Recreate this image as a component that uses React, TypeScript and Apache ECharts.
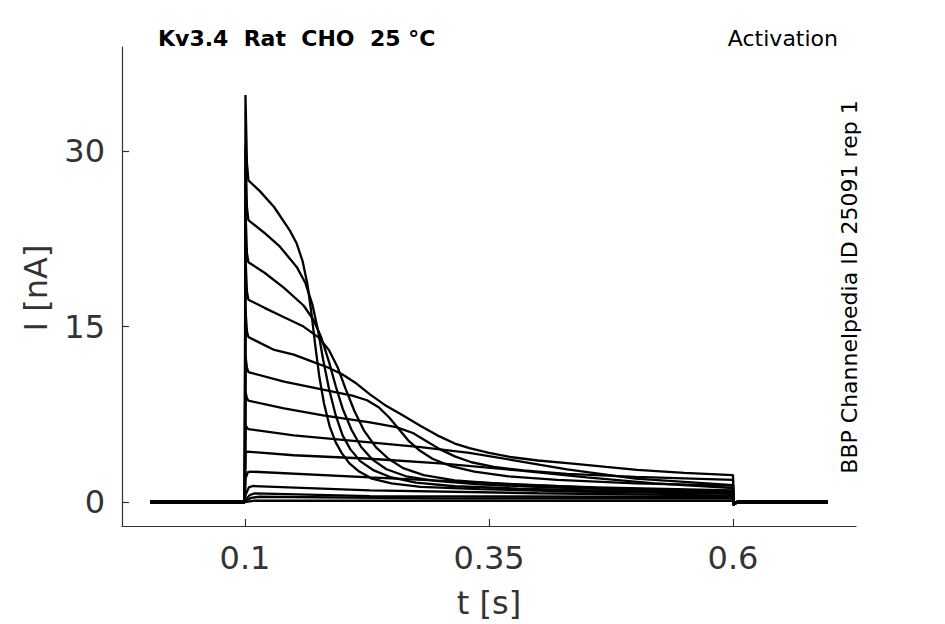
import React, { useEffect, useRef } from "react";
import * as echarts from "echarts";

// ---- data (time in s, current in nA) ----
const T_START = 0.003;
const T_STEP_ON = 0.0998;
const T_STEP_OFF = 0.6;
const T_END = 0.697;
const OFF_DIP = -0.25;

const xTicks = [0.1, 0.35, 0.6];
const yTicks = [0, 15, 30];

const sweep1 = [[0.1005, 34.8], [0.102, 29.0], [0.1035, 27.5], [0.115, 26.6], [0.13, 25.2], [0.146, 23.2], [0.153, 22.1], [0.159, 20.6], [0.164, 18.6], [0.168, 16.2], [0.172, 13.4], [0.176, 10.8], [0.181, 8.4], [0.187, 6.4], [0.193, 5.1], [0.199, 4.2], [0.207, 3.3], [0.217, 2.6], [0.23, 2.0], [0.25, 1.6], [0.28, 1.3], [0.34, 1.1], [0.44, 0.9], [0.6, 0.7]];
const sweep2 = [[0.1005, 30.5], [0.102, 25.2], [0.1035, 24.1], [0.12, 23.0], [0.135, 21.9], [0.153, 20.1], [0.162, 18.7], [0.169, 16.9], [0.175, 14.6], [0.18, 12.2], [0.186, 9.7], [0.193, 7.4], [0.2, 5.7], [0.208, 4.5], [0.218, 3.5], [0.232, 2.7], [0.25, 2.1], [0.275, 1.65], [0.315, 1.35], [0.38, 1.15], [0.47, 0.95], [0.6, 0.8]];
const sweep3 = [[0.1005, 25.0], [0.102, 21.3], [0.1035, 20.5], [0.12, 19.6], [0.14, 18.3], [0.16, 16.8], [0.17, 15.6], [0.178, 14.1], [0.186, 12.0], [0.193, 9.9], [0.2, 8.0], [0.209, 6.2], [0.219, 4.7], [0.231, 3.6], [0.245, 2.8], [0.265, 2.2], [0.295, 1.8], [0.34, 1.5], [0.41, 1.25], [0.5, 1.05], [0.6, 0.9]];
const sweep4 = [[0.1005, 21.0], [0.102, 18.0], [0.1035, 17.3], [0.12, 16.6], [0.14, 15.8], [0.16, 15.0], [0.175, 14.1], [0.186, 13.0], [0.195, 11.5], [0.203, 9.7], [0.212, 7.8], [0.222, 6.1], [0.234, 4.7], [0.247, 3.7], [0.262, 2.9], [0.283, 2.3], [0.315, 1.85], [0.37, 1.5], [0.46, 1.25], [0.6, 1.0]];
const sweep5 = [[0.1005, 16.5], [0.102, 14.6], [0.1035, 14.1], [0.13, 13.0], [0.15, 12.6], [0.169, 12.0], [0.185, 11.5], [0.2, 10.9], [0.213, 10.2], [0.228, 9.2], [0.245, 8.2], [0.262, 7.4], [0.28, 6.5], [0.297, 5.7], [0.315, 5.0], [0.33, 4.6], [0.35, 4.2], [0.3715, 3.85], [0.4, 3.55], [0.433, 3.3], [0.47, 3.0], [0.5016, 2.75], [0.55, 2.5], [0.6, 2.3]];
const sweep6 = [[0.1005, 12.5], [0.102, 11.5], [0.1035, 11.1], [0.14, 10.3], [0.18, 9.6], [0.21, 9.1], [0.225, 8.7], [0.237, 8.1], [0.248, 7.2], [0.258, 6.2], [0.268, 5.2], [0.279, 4.4], [0.292, 3.7], [0.31, 3.1], [0.335, 2.6], [0.37, 2.2], [0.42, 1.9], [0.5, 1.6], [0.6, 1.4]];
const sweep7 = [[0.1005, 9.4], [0.102, 8.9], [0.1035, 8.66], [0.14, 8.0], [0.18, 7.4], [0.228, 6.8], [0.255, 6.4], [0.272, 5.9], [0.286, 5.2], [0.3, 4.5], [0.315, 3.9], [0.332, 3.4], [0.355, 3.0], [0.385, 2.7], [0.43, 2.4], [0.5, 2.15], [0.6, 1.9]];
const sweep8 = [[0.1005, 6.6], [0.102, 6.35], [0.1035, 6.24], [0.15, 5.7], [0.228, 5.1], [0.28, 4.7], [0.33, 4.2], [0.38, 3.5], [0.43, 2.8], [0.5, 2.0], [0.6, 1.45]];
const sweep9 = [[0.1005, 4.2], [0.1025, 4.3], [0.15, 4.0], [0.228, 3.7], [0.3, 3.3], [0.38, 2.7], [0.45, 2.1], [0.52, 1.6], [0.6, 1.2]];
const sweep10 = [[0.1005, 2.0], [0.103, 2.55], [0.106, 2.6], [0.228, 2.1], [0.33, 1.7], [0.45, 1.25], [0.6, 0.85]];
const sweep11 = [[0.1005, 0.6], [0.104, 1.25], [0.108, 1.37], [0.228, 1.0], [0.4, 0.75], [0.6, 0.55]];
const sweep12 = [[0.1005, 0.2], [0.105, 0.6], [0.11, 0.74], [0.228, 0.5], [0.6, 0.43]];
const sweep13 = [[0.1005, 0.05], [0.106, 0.35], [0.115, 0.45], [0.3, 0.32], [0.6, 0.3]];
const sweep14 = [[0.1005, 0.0], [0.11, 0.12], [0.6, 0.1]];

const sweeps = [sweep1, sweep2, sweep3, sweep4, sweep5, sweep6, sweep7, sweep8, sweep9, sweep10, sweep11, sweep12, sweep13, sweep14];

const TITLE = "Kv3.4  Rat  CHO  25 °C";
const PROTOCOL = "Activation";
const SOURCE = "BBP Channelpedia ID 25091 rep 1";
const X_NAME = "t [s]";
const Y_NAME = "I [nA]";

function withHolding(pts: number[][]): number[][] {
  return [
    [T_START, 0],
    [T_STEP_ON, 0],
    ...pts,
    [T_STEP_OFF + 0.0005, OFF_DIP],
    [T_STEP_OFF + 0.004, 0],
    [T_END, 0],
  ];
}

const FONT = "DejaVu Sans";

export default function App() {
  const ref = useRef<HTMLDivElement>(null);
  useEffect(() => {
    if (!ref.current) return;
    const chart = echarts.init(ref.current, null, { renderer: "svg" });
    const axisColor = "#333";
    chart.setOption({
      animation: false,
      backgroundColor: "#fff",
      grid: { left: 122, right: 89, top: 47, bottom: 98 },
      xAxis: {
        type: "value",
        min: -0.026,
        max: 0.726,
        axisLine: { show: true, onZero: false, lineStyle: { color: axisColor, width: 1.2 } },
        axisTick: { show: true, inside: true, length: 7, customValues: xTicks, lineStyle: { color: axisColor, width: 1.2 } },
        axisLabel: { customValues: xTicks, color: "#333", fontSize: 32, fontFamily: FONT, margin: 16, formatter: (v: number) => String(v) },
        splitLine: { show: false },
      },
      yAxis: {
        type: "value",
        min: -2.05,
        max: 38.9,
        axisLine: { show: true, onZero: false, lineStyle: { color: axisColor, width: 1.2 } },
        axisTick: { show: true, inside: true, length: 7, customValues: yTicks, lineStyle: { color: axisColor, width: 1.2 } },
        axisLabel: { customValues: yTicks, color: "#333", fontSize: 32, fontFamily: FONT, margin: 17, formatter: (v: number) => String(v) },
        splitLine: { show: false },
      },
      series: sweeps.map((s, i) => ({
        type: "line",
        name: "sweep" + (i + 1),
        data: withHolding(s),
        showSymbol: false,
        symbol: "none",
        smooth: false,
        lineStyle: { color: "#000", width: 2.3 },
        z: 2,
      })),
      graphic: [
        { type: "text", left: 158, top: 27, style: { text: TITLE, fontFamily: FONT, fontWeight: "bold", fontSize: 22, fill: "#000" } },
        { type: "text", right: 107, top: 27, style: { text: PROTOCOL, fontFamily: FONT, fontSize: 22, fill: "#000" } },
        { type: "text", x: 849, y: 287, rotation: Math.PI / 2, style: { text: SOURCE, fontFamily: FONT, fontSize: 22, fill: "#000", align: "center", verticalAlign: "middle" } },
        { type: "text", x: 489, y: 603, style: { text: X_NAME, fontFamily: FONT, fontSize: 32, fill: "#333", align: "center", verticalAlign: "middle" } },
        { type: "text", x: 36, y: 288, rotation: Math.PI / 2, style: { text: Y_NAME, fontFamily: FONT, fontSize: 32, fill: "#333", align: "center", verticalAlign: "middle" } },
      ],
    });
    return () => chart.dispose();
  }, []);
  return <div ref={ref} style={{ position: "fixed", left: 0, top: 0, width: 945, height: 624 }} />;
}
